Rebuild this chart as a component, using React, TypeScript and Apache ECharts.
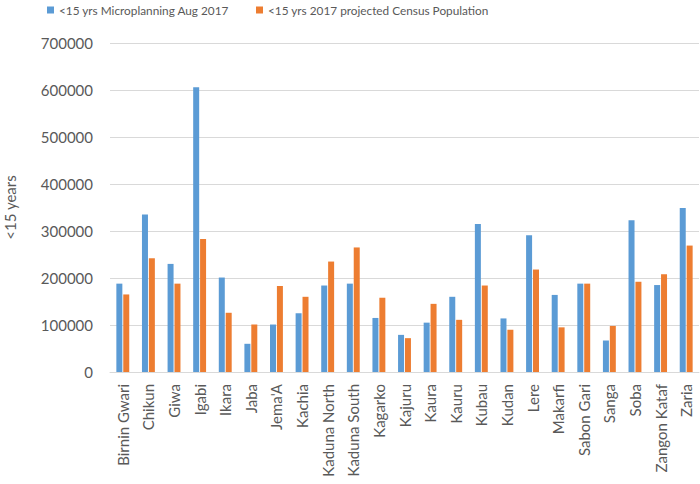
import React, { useEffect, useRef } from "react";
import * as echarts from "echarts";

const categories = [
  "Birnin Gwari", "Chikun", "Giwa", "Igabi", "Ikara", "Jaba", "Jema'A", "Kachia",
  "Kaduna North", "Kaduna South", "Kagarko", "Kajuru", "Kaura", "Kauru", "Kubau",
  "Kudan", "Lere", "Makarfi", "Sabon Gari", "Sanga", "Soba", "Zangon Kataf", "Zaria",
];

const microplanning = [
  188000, 335000, 230000, 606000, 201000, 60000, 101000, 125000,
  184000, 188000, 115000, 79000, 105000, 160000, 315000,
  114000, 291000, 164000, 188000, 67000, 323000, 185000, 349000,
];

const census = [
  165000, 242000, 188000, 283000, 126000, 101000, 183000, 160000,
  235000, 265000, 158000, 72000, 145000, 111000, 184000,
  90000, 218000, 95000, 188000, 98000, 192000, 208000, 269000,
];

const yTicks = { min: 0, max: 700000, interval: 100000 };

const FONT = "Lato, sans-serif";
const GREY = "#595959";

export default function App() {
  const ref = useRef<HTMLDivElement>(null);
  useEffect(() => {
    const chart = echarts.init(ref.current!, null, { renderer: "svg" });
    chart.setOption({
      animation: false,
      textStyle: { fontFamily: FONT },
      legend: {
        top: -1,
        left: 42,
        itemWidth: 7,
        itemHeight: 7,
        itemGap: 27,
        icon: "rect",
        textStyle: { color: GREY, fontSize: 11.8, fontFamily: FONT },
        data: ["<15 yrs Microplanning Aug 2017", "<15 yrs 2017 projected Census Population"],
      },
      grid: {
        left: 110,
        right: 1,
        top: 43,
        bottom: 112,
        containLabel: false,
        outerBoundsMode: "none",
      },
      xAxis: {
        type: "category",
        data: categories,
        axisLine: { lineStyle: { color: "#D9D9D9" } },
        axisTick: { show: false },
        axisLabel: {
          rotate: 90,
          interval: 0,
          color: GREY,
          fontSize: 15,
          fontFamily: FONT,
          margin: 12,
        },
      },
      yAxis: {
        type: "value",
        min: yTicks.min,
        max: yTicks.max,
        interval: yTicks.interval,
        name: "<15 years",
        nameLocation: "middle",
        nameRotate: 90,
        nameGap: 93,
        nameTextStyle: { color: GREY, fontSize: 15, fontFamily: FONT },
        axisLine: { show: false },
        axisTick: { show: false },
        splitLine: { lineStyle: { color: "#D9D9D9", width: 1 } },
        axisLabel: {
          color: GREY,
          fontSize: 15,
          fontFamily: FONT,
          margin: 17,
          formatter: (v: number) => String(v),
        },
      },
      series: [
        {
          name: "<15 yrs Microplanning Aug 2017",
          type: "bar",
          data: microplanning,
          itemStyle: { color: "#5B9BD5" },
          barWidth: 6,
          barGap: "15%",
        },
        {
          name: "<15 yrs 2017 projected Census Population",
          type: "bar",
          data: census,
          itemStyle: { color: "#ED7D31" },
          barWidth: 6,
          barGap: "15%",
        },
      ],
    });
    return () => chart.dispose();
  }, []);
  return <div ref={ref} style={{ width: 700, height: 484, position: "absolute", left: 0, top: 0 }} />;
}
